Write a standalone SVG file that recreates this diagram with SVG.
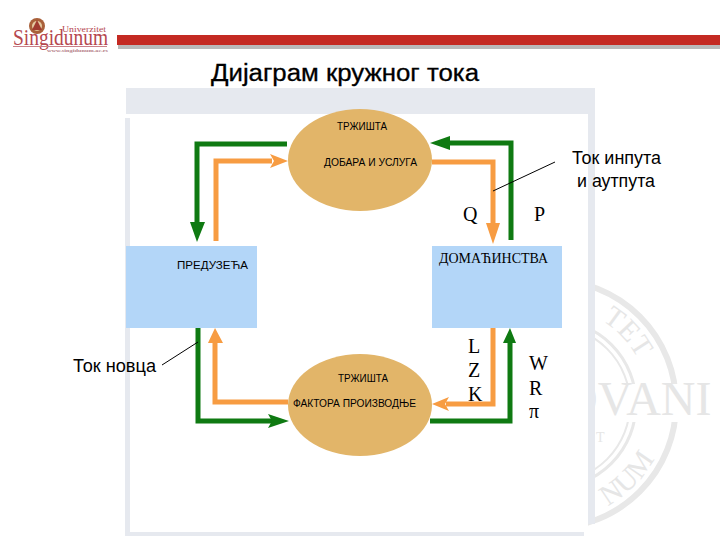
<svg xmlns="http://www.w3.org/2000/svg" width="720" height="540" viewBox="0 0 720 540">
<style>
.s{font-family:"Liberation Sans",Arial,sans-serif;fill:#000}
.r{font-family:"Liberation Serif","Times New Roman",serif;fill:#000}
.wm{font-family:"Liberation Serif","Times New Roman",serif;fill:#e6e6e6}
.ring{fill:none;stroke:#e8e8e8}
.g{fill:none;stroke:#0f7a12;stroke-width:5;stroke-linejoin:miter}
.o{fill:none;stroke:#f79c42;stroke-width:5;stroke-linejoin:miter}
.gh{fill:#0f7a12}
.oh{fill:#f79c42}
.lead{stroke:#000;stroke-width:1;fill:none}
.ell{fill:#e2b569}
.box{fill:#b3d6f8}
.frame{fill:#e6e9ef}
</style>
<defs>
<path id="arcTop" d="M600 319.5A97 97 0 0 1 645.7 379"/>
<path id="arcBot" d="M604 508A116 116 0 0 0 664 434"/>
</defs>
<rect width="720" height="540" fill="#fff"/>
<g id="watermark">
<circle class="ring" cx="552" cy="404" r="124" stroke-width="6"/>
<circle class="ring" cx="552" cy="404" r="84" stroke-width="3"/>
<circle class="ring" cx="552" cy="404" r="78" stroke-width="2"/>
<rect x="590" y="384" width="130" height="38" fill="#fff"/>
<text class="wm" x="563" y="415" font-size="48">OVANI</text>
<text class="wm" font-size="29"><textPath href="#arcTop" startOffset="2">TET</textPath></text>
<text class="wm" font-size="29"><textPath href="#arcBot" startOffset="4">NUM</textPath></text>
<text class="wm" x="596" y="442" font-size="14">T</text>
</g>
<g id="frame">
<rect class="frame" x="126" y="88" width="469" height="26"/>
<rect class="frame" x="588" y="88" width="7" height="436"/>
<rect class="frame" x="125" y="118" width="5" height="417"/>
<rect class="frame" x="125" y="532" width="459" height="4"/>
<rect x="130" y="114" width="458" height="418" fill="#fff"/>
</g>
<g id="header">
<circle cx="37" cy="26" r="8" fill="#a9603a"/>
<circle cx="37" cy="26" r="5" fill="#e4c9a0"/>
<path d="M37 20L42 30H32Z" fill="#a03a30"/>
<text x="13" y="45" font-family="Liberation Serif,serif" font-size="23" fill="#b5474f" textLength="95" lengthAdjust="spacingAndGlyphs">Singidunum</text>
<text x="62" y="32" font-family="Liberation Serif,serif" font-size="8" fill="#b5474f" textLength="44" lengthAdjust="spacingAndGlyphs">Univerzitet</text>
<text x="47" y="52" font-family="Liberation Serif,serif" font-size="5" font-weight="bold" fill="#b58088" textLength="61" lengthAdjust="spacingAndGlyphs">www.singidunum.ac.rs</text>
<rect x="13" y="46" width="94" height="1" fill="#c98088"/>
<rect x="118" y="45" width="602" height="4" fill="#b9b9b9"/>
<rect x="117" y="35" width="603" height="10" fill="#c42a22"/>
</g>
<text id="title" class="s" x="211" y="81" font-size="23" stroke="#000" stroke-width=".3" textLength="268" lengthAdjust="spacingAndGlyphs">Дијаграм кружног тока</text>
<g id="connectors">
<path class="g" d="M287 144H197V226"/><path class="gh" d="M190 222H205L197 242Z"/>
<path class="o" d="M216 241V161H272"/><path class="oh" d="M270 154L288 161L270 168L274 161Z"/>
<path class="g" d="M511 240V143H446"/><path class="gh" d="M450 136V150L430 143Z"/>
<path class="o" d="M432 162H493V226"/><path class="oh" d="M486 223H500L493 244Z"/>
<path class="g" d="M198 328V421H272"/><path class="gh" d="M268 414L289 421L268 428L272 421Z"/>
<path class="o" d="M288 402H215V340"/><path class="oh" d="M208 343H223L215 328Z"/>
<path class="o" d="M493 328V404H446"/><path class="oh" d="M449 397L432 404L449 411L445 404Z"/>
<path class="g" d="M430 421H510V340"/><path class="gh" d="M503 343H516L510 328Z"/>
<path class="lead" d="M555 162L493 191"/>
<path class="lead" d="M162 365L198 342"/>
</g>
<g id="market-goods">
<ellipse class="ell" cx="360" cy="160" rx="72" ry="51"/>
<text class="s" x="337" y="130" font-size="10" textLength="50" lengthAdjust="spacingAndGlyphs">ТРЖИШТА</text>
<text class="s" x="324" y="166" font-size="10" textLength="93" lengthAdjust="spacingAndGlyphs">ДОБАРА И УСЛУГА</text>
</g>
<g id="market-factors">
<ellipse class="ell" cx="360" cy="405" rx="72" ry="51"/>
<text class="s" x="338" y="382" font-size="10" textLength="50" lengthAdjust="spacingAndGlyphs">ТРЖИШТА</text>
<text class="s" x="293" y="407" font-size="10" textLength="123" lengthAdjust="spacingAndGlyphs">ФАКТОРА ПРОИЗВОДЊЕ</text>
</g>
<g id="firms">
<rect class="box" x="126" y="246" width="131" height="82"/>
<text class="s" x="177" y="269" font-size="11.5" textLength="71" lengthAdjust="spacingAndGlyphs">ПРЕДУЗЕЋА</text>
</g>
<g id="households">
<rect class="box" x="432" y="246" width="130" height="82"/>
<text class="r" x="439" y="263" font-size="14" textLength="109" lengthAdjust="spacingAndGlyphs">ДОМАЋИНСТВА</text>
</g>
<g id="labels">
<text class="r" x="463" y="221" font-size="20">Q</text>
<text class="r" x="534" y="221" font-size="20">P</text>
<text class="r" x="468" y="353" font-size="20">L</text>
<text class="r" x="468" y="377" font-size="20">Z</text>
<text class="r" x="468" y="401" font-size="20">K</text>
<text class="r" x="529" y="370" font-size="20">W</text>
<text class="r" x="529" y="395" font-size="20">R</text>
<text class="r" x="529" y="418" font-size="20">π</text>
<text class="s" x="572" y="164" font-size="17.5" textLength="89" lengthAdjust="spacingAndGlyphs">Ток инпута</text>
<text class="s" x="577" y="187" font-size="17.5" textLength="78" lengthAdjust="spacingAndGlyphs">и аутпута</text>
<text class="s" x="73" y="372" font-size="17.5" textLength="83" lengthAdjust="spacingAndGlyphs">Ток новца</text>
</g>
</svg>
